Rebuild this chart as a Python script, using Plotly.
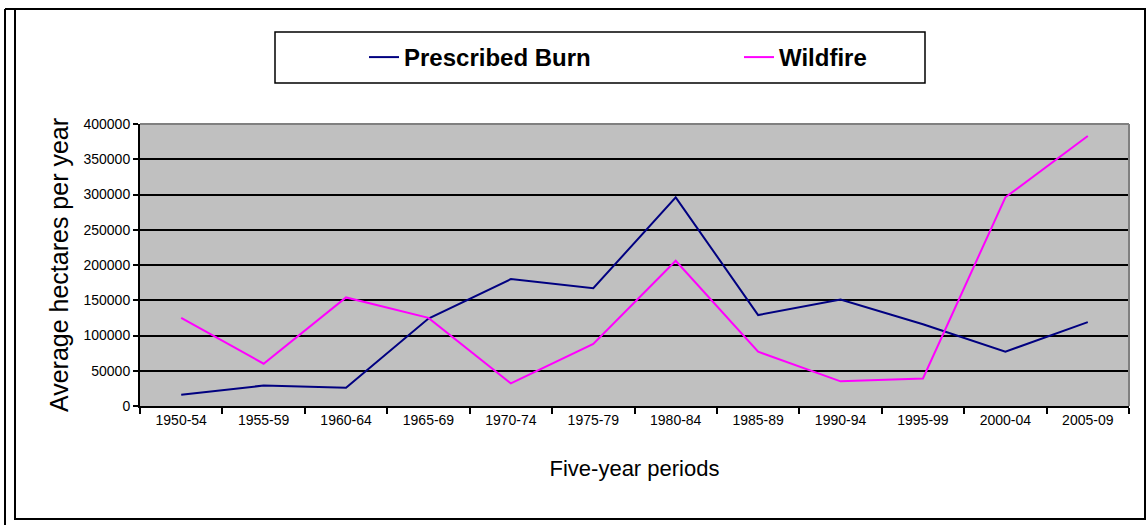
import plotly.graph_objects as go

periods = ["1950-54", "1955-59", "1960-64", "1965-69", "1970-74", "1975-79",
           "1980-84", "1985-89", "1990-94", "1995-99", "2000-04", "2005-09"]
prescribed_burn = [16000, 29000, 26000, 124000, 180000, 167000,
                   296000, 129000, 151000, 116000, 77000, 119000]
wildfire = [125000, 60000, 154000, 125000, 32000, 88000,
            206000, 77000, 35000, 39000, 296000, 383000]

FONT = "Liberation Sans, Arial, sans-serif"
W, H = 1148, 525
L, R, T, B = 140, 19, 124, 119
PW, PH = W - L - R, H - T - B


def px(x):
    return (x - L) / PW


def py(y):
    return (H - B - y) / PH


fig = go.Figure()
fig.add_trace(go.Scatter(x=periods, y=prescribed_burn, mode="lines", name="Prescribed Burn",
                         line=dict(color="#000080", width=2)))
fig.add_trace(go.Scatter(x=periods, y=wildfire, mode="lines", name="Wildfire",
                         line=dict(color="#FF00FF", width=2)))

shapes = [
    # outer frame
    dict(type="rect", xref="paper", yref="paper", x0=px(15), x1=px(1145), y0=py(519), y1=py(9),
         line=dict(color="black", width=2), layer="below"),
    dict(type="line", xref="paper", yref="paper", x0=px(5), x1=px(5), y0=py(525), y1=py(9),
         line=dict(color="black", width=2)),
    dict(type="line", xref="paper", yref="paper", x0=px(5), x1=px(15), y0=py(9), y1=py(9),
         line=dict(color="black", width=2)),
    # legend box
    dict(type="rect", xref="paper", yref="paper", x0=px(275), x1=px(925), y0=py(83), y1=py(32),
         line=dict(color="black", width=1.5)),
    # plot area top/right border
    dict(type="line", xref="paper", yref="paper", x0=0, x1=1, y0=1, y1=1,
         line=dict(color="#808080", width=2)),
    dict(type="line", xref="paper", yref="paper", x0=1, x1=1, y0=0, y1=1,
         line=dict(color="#808080", width=2)),
]

fig.update_layout(
    width=W, height=H,
    margin=dict(l=L, r=R, t=T, b=B, pad=0),
    paper_bgcolor="white",
    plot_bgcolor="#C0C0C0",
    font=dict(family=FONT, color="black", size=14),
    shapes=shapes,
    showlegend=True,
    legend=dict(
        orientation="h", xref="container", yref="container",
        x=364 / W, xanchor="left", y=1 - 57.5 / H, yanchor="middle",
        font=dict(family=FONT, size=24, color="black", weight="bold"),
        bgcolor="rgba(0,0,0,0)", borderwidth=0,
        entrywidth=330, entrywidthmode="pixels",
    ),
    xaxis=dict(
        type="category", range=[-0.5, 11.5], tickson="boundaries",
        ticks="outside", ticklen=6, tickwidth=2, tickcolor="black",
        showline=True, linecolor="black", linewidth=2,
        showgrid=False, zeroline=False,
        tickfont=dict(size=14, family=FONT),
        title=dict(text="Five-year periods", font=dict(size=22, family=FONT), standoff=34),
    ),
    yaxis=dict(
        range=[0, 400000], dtick=50000, tickformat="d",
        ticks="outside", ticklen=5, tickwidth=2, tickcolor="black",
        showline=True, linecolor="black", linewidth=2,
        showgrid=True, gridcolor="black", gridwidth=1.5, zeroline=False,
        tickfont=dict(size=14, family=FONT),
        title=dict(text="Average hectares per year", font=dict(size=25, family=FONT), standoff=8),
    ),
)

fig.write_html("out.html", config={"displayModeBar": False},
               post_script="document.body.style.margin='0';")
